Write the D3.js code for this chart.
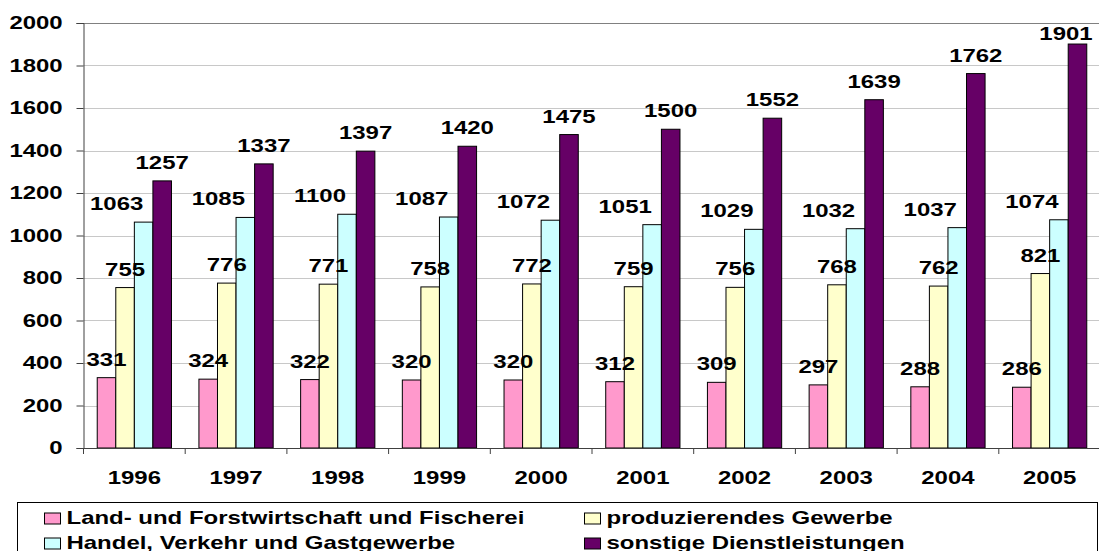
<!DOCTYPE html>
<html>
<head>
<meta charset="utf-8">
<script src="https://cdn.jsdelivr.net/npm/d3@7"></script>
<style>
  body { margin: 0; background: #fff; }
  svg { display: block; }
  text { font-family: "Liberation Sans", Arial, sans-serif; font-weight: bold; fill: #000; }
</style>
</head>
<body>
<svg width="1099" height="551"></svg>
<script>
const years = ["1996", "1997", "1998", "1999", "2000", "2001", "2002", "2003", "2004", "2005"];
const seriesNames = [
  "Land- und Forstwirtschaft und Fischerei",
  "produzierendes Gewerbe",
  "Handel, Verkehr und Gastgewerbe",
  "sonstige Dienstleistungen"
];
const land = [331, 324, 322, 320, 320, 312, 309, 297, 288, 286];
const produz = [755, 776, 771, 758, 772, 759, 756, 768, 762, 821];
const handel = [1063, 1085, 1100, 1087, 1072, 1051, 1029, 1032, 1037, 1074];
const sonstige = [1257, 1337, 1397, 1420, 1475, 1500, 1552, 1639, 1762, 1901];
const yTicks = [0, 200, 400, 600, 800, 1000, 1200, 1400, 1600, 1800, 2000];

const colors = ["#ff99cc", "#ffffcc", "#ccffff", "#660066"];
// the original picture is stretched sideways, so text gets stretched too
const stretch = 1.37;
const fontSize = 17.5;
// Excel pushed the 3rd series labels to the left
const labelShift = [0, 0, -27, 0];

const allSeries = [land, produz, handel, sonstige];

const svg = d3.select("svg");

const plotLeft = 83.5, plotRight = 1100.5, plotTop = 23, plotBottom = 448;

const y = d3.scaleLinear().domain([0, 2000]).range([plotBottom, plotTop]);
const x0 = d3.scaleBand().domain(years).range([plotLeft, plotRight])
  .paddingInner(0.27).paddingOuter(0.135);
const x1 = d3.scaleBand().domain(d3.range(4)).range([0, x0.bandwidth()]);
const step = x0.step();

// gridlines
svg.append("g").selectAll("line")
  .data(yTicks.filter(d => d > 0))
  .join("line")
  .attr("x1", plotLeft).attr("x2", plotRight)
  .attr("y1", d => Math.round(y(d)) + 0.5).attr("y2", d => Math.round(y(d)) + 0.5)
  .attr("stroke", d => d === 2000 ? "#808080" : "#c8c8c8")
  .attr("stroke-width", 1);

// y axis
const yAxis = svg.append("g").attr("transform", `translate(${plotLeft},0)`)
  .call(d3.axisLeft(y).tickValues(yTicks).tickSize(7).tickFormat(""));
yAxis.select(".domain").attr("stroke", "#404040");
yAxis.selectAll(".tick line").attr("stroke", "#404040");

svg.append("g").selectAll("text")
  .data(yTicks)
  .join("text")
  .attr("text-anchor", "end")
  .attr("font-size", fontSize)
  .attr("transform", d => `translate(62.7,${y(d) + 6.2}) scale(${stretch},1)`)
  .text(d => d);

// bars
const groups = svg.append("g").selectAll("g")
  .data(years)
  .join("g")
  .attr("transform", d => `translate(${x0(d)},0)`);

groups.selectAll("rect")
  .data((d, i) => allSeries.map((s, k) => ({k, v: s[i]})))
  .join("rect")
  .attr("x", d => x1(d.k))
  .attr("y", d => y(d.v))
  .attr("width", x1.bandwidth())
  .attr("height", d => plotBottom - y(d.v))
  .attr("fill", d => colors[d.k])
  .attr("stroke", "#000")
  .attr("stroke-width", 1);

groups.selectAll("text")
  .data((d, i) => allSeries.map((s, k) => ({k, v: s[i], year: d})))
  .join("text")
  .attr("text-anchor", "middle")
  .attr("font-size", fontSize)
  .attr("transform", d => {
    let cx = x1(d.k) + x1.bandwidth() / 2 + labelShift[d.k];
    // keep label inside the picture on the right
    cx = Math.min(cx, 1066 - x0(d.year));
    const by = Math.max(y(d.v) - 12, 40);
    return `translate(${cx},${by}) scale(${stretch},1)`;
  })
  .text(d => d.v);

// x axis
svg.append("line")
  .attr("x1", plotLeft).attr("x2", plotRight)
  .attr("y1", plotBottom + 0.5).attr("y2", plotBottom + 0.5)
  .attr("stroke", "#404040");

const bounds = years.map(d => x0(d) - step * 0.135).concat([plotRight]);
svg.append("g").selectAll("line")
  .data(bounds)
  .join("line")
  .attr("x1", d => d).attr("x2", d => d)
  .attr("y1", plotBottom).attr("y2", plotBottom + 6)
  .attr("stroke", "#404040");

svg.append("g").selectAll("text")
  .data(years)
  .join("text")
  .attr("text-anchor", "middle")
  .attr("font-size", fontSize)
  .attr("transform", d => `translate(${x0(d) + x0.bandwidth() / 2},483.5) scale(${stretch},1)`)
  .text(d => d);

// legend
const legend = svg.append("g");
legend.append("rect")
  .attr("x", 17.5).attr("y", 502.5)
  .attr("width", 1080).attr("height", 70)
  .attr("fill", "#fff").attr("stroke", "#000");

const legendPos = [
  {x: 44.5, y: 524},
  {x: 584.5, y: 524},
  {x: 44.5, y: 549},
  {x: 584.5, y: 549}
];
const items = legend.selectAll("g")
  .data(seriesNames)
  .join("g")
  .attr("transform", (d, i) => `translate(${legendPos[i].x},${legendPos[i].y})`);

items.append("rect")
  .attr("x", 0).attr("y", -11)
  .attr("width", 16).attr("height", 11)
  .attr("fill", (d, i) => colors[i])
  .attr("stroke", "#000");

items.append("text")
  .attr("font-size", fontSize)
  .attr("transform", `translate(22,0) scale(${stretch},1)`)
  .text(d => d);
</script>
</body>
</html>
